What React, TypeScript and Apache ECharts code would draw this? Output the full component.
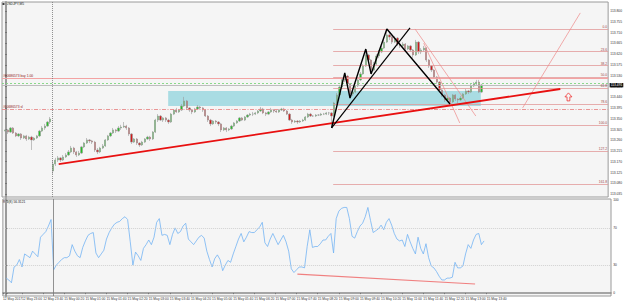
import React, { useEffect, useRef } from "react";
import * as echarts from "echarts";

// ---------- DATA ----------
// candles: [open, close, low, high], USDJPY M5, bar 18 = 15 May 00:00
const candles: number[][] = [
  [113.298, 113.303, 113.290, 113.311], [113.303, 113.294, 113.286, 113.307], [113.294, 113.311, 113.290, 113.315],
  [113.311, 113.290, 113.286, 113.315], [113.290, 113.278, 113.273, 113.294], [113.278, 113.286, 113.273, 113.290],
  [113.286, 113.269, 113.261, 113.290], [113.269, 113.278, 113.265, 113.282], [113.278, 113.265, 113.257, 113.282],
  [113.265, 113.273, 113.261, 113.278], [113.273, 113.261, 113.219, 113.278], [113.261, 113.269, 113.257, 113.273],
  [113.269, 113.278, 113.265, 113.282], [113.278, 113.298, 113.273, 113.303], [113.298, 113.311, 113.294, 113.319],
  [113.311, 113.319, 113.303, 113.328], [113.319, 113.336, 113.315, 113.340], [113.336, 113.349, 113.328, 113.357],
  [113.131, 113.160, 113.119, 113.177], [113.160, 113.177, 113.152, 113.186], [113.177, 113.186, 113.169, 113.194],
  [113.186, 113.177, 113.169, 113.190], [113.177, 113.190, 113.173, 113.198], [113.190, 113.198, 113.186, 113.206],
  [113.198, 113.211, 113.194, 113.219], [113.211, 113.227, 113.206, 113.236], [113.227, 113.211, 113.202, 113.232],
  [113.211, 113.198, 113.190, 113.215], [113.198, 113.206, 113.194, 113.215], [113.206, 113.232, 113.202, 113.236],
  [113.232, 113.248, 113.227, 113.252], [113.248, 113.261, 113.244, 113.269], [113.261, 113.257, 113.248, 113.265],
  [113.257, 113.252, 113.244, 113.261], [113.252, 113.219, 113.211, 113.257], [113.219, 113.211, 113.202, 113.227],
  [113.211, 113.227, 113.206, 113.232], [113.227, 113.236, 113.223, 113.244], [113.236, 113.261, 113.232, 113.265],
  [113.261, 113.278, 113.257, 113.282], [113.278, 113.290, 113.273, 113.294], [113.290, 113.303, 113.286, 113.311],
  [113.303, 113.298, 113.290, 113.307], [113.298, 113.311, 113.294, 113.319], [113.311, 113.315, 113.303, 113.324],
  [113.315, 113.319, 113.311, 113.336], [113.319, 113.311, 113.303, 113.324], [113.311, 113.286, 113.278, 113.315],
  [113.286, 113.252, 113.244, 113.290], [113.252, 113.265, 113.248, 113.269], [113.265, 113.248, 113.240, 113.269],
  [113.248, 113.240, 113.232, 113.252], [113.240, 113.252, 113.236, 113.257], [113.252, 113.265, 113.248, 113.269],
  [113.265, 113.273, 113.261, 113.278], [113.273, 113.265, 113.257, 113.278], [113.265, 113.294, 113.261, 113.298],
  [113.294, 113.344, 113.290, 113.349], [113.344, 113.361, 113.336, 113.369], [113.361, 113.344, 113.340, 113.365],
  [113.344, 113.353, 113.336, 113.357], [113.353, 113.344, 113.336, 113.357], [113.344, 113.336, 113.328, 113.349],
  [113.336, 113.369, 113.332, 113.374], [113.369, 113.386, 113.365, 113.390], [113.386, 113.378, 113.374, 113.395],
  [113.378, 113.386, 113.374, 113.390], [113.386, 113.403, 113.382, 113.411], [113.403, 113.424, 113.399, 113.441],
  [113.424, 113.395, 113.386, 113.428], [113.395, 113.386, 113.378, 113.399], [113.386, 113.378, 113.369, 113.390],
  [113.378, 113.390, 113.374, 113.395], [113.390, 113.399, 113.386, 113.407], [113.399, 113.395, 113.390, 113.403],
  [113.395, 113.386, 113.378, 113.399], [113.386, 113.361, 113.357, 113.390], [113.361, 113.344, 113.336, 113.365],
  [113.344, 113.328, 113.319, 113.349], [113.328, 113.340, 113.324, 113.344], [113.340, 113.336, 113.328, 113.344],
  [113.336, 113.328, 113.319, 113.340], [113.328, 113.303, 113.294, 113.332], [113.303, 113.311, 113.298, 113.315],
  [113.311, 113.303, 113.294, 113.315], [113.303, 113.307, 113.298, 113.311], [113.307, 113.319, 113.303, 113.324],
  [113.319, 113.332, 113.315, 113.336], [113.332, 113.340, 113.328, 113.344], [113.340, 113.353, 113.336, 113.357],
  [113.353, 113.344, 113.340, 113.357], [113.344, 113.357, 113.340, 113.361], [113.357, 113.365, 113.353, 113.369],
  [113.365, 113.369, 113.361, 113.374], [113.369, 113.369, 113.361, 113.378], [113.369, 113.374, 113.365, 113.378],
  [113.374, 113.382, 113.369, 113.386], [113.382, 113.390, 113.378, 113.399], [113.390, 113.374, 113.369, 113.395],
  [113.374, 113.369, 113.361, 113.378], [113.369, 113.378, 113.365, 113.382], [113.378, 113.386, 113.374, 113.395],
  [113.386, 113.382, 113.374, 113.390], [113.382, 113.378, 113.374, 113.386], [113.378, 113.386, 113.374, 113.390],
  [113.386, 113.390, 113.382, 113.395], [113.390, 113.382, 113.378, 113.395], [113.382, 113.369, 113.365, 113.386],
  [113.369, 113.344, 113.340, 113.374], [113.344, 113.336, 113.328, 113.349], [113.336, 113.340, 113.332, 113.344],
  [113.340, 113.336, 113.328, 113.344], [113.336, 113.340, 113.332, 113.344], [113.340, 113.344, 113.336, 113.349],
  [113.344, 113.357, 113.340, 113.361], [113.357, 113.369, 113.353, 113.374], [113.369, 113.361, 113.357, 113.374],
  [113.361, 113.361, 113.357, 113.365], [113.361, 113.365, 113.357, 113.369], [113.365, 113.365, 113.361, 113.369],
  [113.365, 113.369, 113.361, 113.374], [113.369, 113.369, 113.365, 113.374], [113.369, 113.374, 113.365, 113.378],
  [113.374, 113.374, 113.365, 113.378], [113.374, 113.361, 113.311, 113.378], [113.361, 113.415, 113.357, 113.420],
  [113.415, 113.449, 113.411, 113.457], [113.449, 113.482, 113.445, 113.491], [113.482, 113.512, 113.478, 113.520],
  [113.512, 113.528, 113.503, 113.541], [113.528, 113.495, 113.491, 113.533], [113.495, 113.453, 113.436, 113.499],
  [113.453, 113.461, 113.445, 113.470], [113.461, 113.487, 113.457, 113.491], [113.487, 113.512, 113.482, 113.516],
  [113.512, 113.537, 113.507, 113.545], [113.537, 113.570, 113.533, 113.578], [113.570, 113.616, 113.566, 113.641],
  [113.616, 113.595, 113.587, 113.620], [113.595, 113.553, 113.537, 113.599], [113.553, 113.578, 113.549, 113.587],
  [113.578, 113.612, 113.574, 113.620], [113.612, 113.629, 113.603, 113.637], [113.629, 113.645, 113.624, 113.654],
  [113.645, 113.670, 113.641, 113.679], [113.670, 113.700, 113.666, 113.725], [113.700, 113.691, 113.679, 113.712],
  [113.691, 113.670, 113.662, 113.695], [113.670, 113.687, 113.666, 113.695], [113.687, 113.662, 113.654, 113.691],
  [113.662, 113.654, 113.645, 113.670], [113.654, 113.662, 113.649, 113.670], [113.662, 113.641, 113.633, 113.666],
  [113.641, 113.654, 113.637, 113.658], [113.654, 113.637, 113.629, 113.658], [113.637, 113.616, 113.603, 113.641],
  [113.616, 113.670, 113.612, 113.679], [113.670, 113.629, 113.620, 113.674], [113.629, 113.637, 113.620, 113.645],
  [113.637, 113.645, 113.629, 113.654], [113.645, 113.595, 113.587, 113.649], [113.595, 113.570, 113.562, 113.599],
  [113.570, 113.553, 113.545, 113.574], [113.553, 113.524, 113.516, 113.557], [113.524, 113.503, 113.495, 113.528],
  [113.503, 113.470, 113.461, 113.507], [113.470, 113.449, 113.440, 113.474], [113.449, 113.428, 113.420, 113.453],
  [113.428, 113.436, 113.424, 113.445], [113.436, 113.420, 113.411, 113.440], [113.420, 113.449, 113.415, 113.453],
  [113.449, 113.432, 113.424, 113.453], [113.432, 113.428, 113.415, 113.436], [113.428, 113.436, 113.424, 113.445],
  [113.436, 113.453, 113.432, 113.457], [113.453, 113.466, 113.449, 113.474], [113.466, 113.461, 113.453, 113.470],
  [113.461, 113.487, 113.457, 113.495], [113.487, 113.495, 113.482, 113.503], [113.495, 113.503, 113.491, 113.512],
  [113.503, 113.461, 113.457, 113.512], [113.461, 113.491, 113.457, 113.495],
];

const rsiValues: number[] = [
  16, 14, 11, 28, 30, 36, 28, 42, 40, 38, 45, 42, 39, 60, 63, 66, 72, 79, 25, 30,
  33, 36, 38, 38, 40, 52, 45, 40, 38, 49, 56, 62, 64, 65, 43, 38, 42, 46, 58, 65,
  70, 74, 76, 77, 80, 82, 79, 55, 30, 44, 40, 35, 48, 52, 57, 52, 60, 76, 80, 62,
  63, 62, 52, 63, 70, 64, 66, 72, 75, 58, 55, 52, 56, 60, 62, 59, 45, 36, 28, 37,
  41, 36, 24, 30, 35, 33, 42, 50, 58, 64, 55, 60, 66, 65, 65, 68, 71, 76, 54, 50,
  58, 64, 58, 52, 57, 62, 55, 45, 26, 22, 25, 28, 28, 27, 50, 68, 49, 50, 50, 53,
  57, 57, 61, 64, 43, 80, 88, 91, 92, 92, 80, 61, 59, 66, 72, 75, 82, 92, 78, 65,
  67, 69, 73, 68, 76, 80, 73, 64, 58, 56, 57, 50, 63, 55, 48, 42, 60, 48, 42, 53,
  38, 29, 27, 23, 18, 14, 14, 16, 16, 17, 33, 27, 27, 29, 42, 52, 48, 57, 63, 64,
  52, 56,
];

const priceTickValues: number[] = [
  113.035, 113.080, 113.125, 113.170, 113.215, 113.260, 113.305, 113.350, 113.395,
  113.440, 113.485, 113.530, 113.575, 113.620, 113.665, 113.710, 113.755, 113.800,
];
const rsiTickValues: number[] = [0, 30, 70, 100];

const timeTickBars: number[] = [-1.2, 6, 14, 22, 30, 38, 46, 54, 62, 70, 78, 86, 94, 102, 110, 118, 126, 134, 142, 150, 158, 166, 174, 182];
const timeTickLabels: string[] = [
  "12 May 2017", "12 May 23:00", "12 May 23:40", "15 May 00:20", "15 May 01:00", "15 May 01:40",
  "15 May 02:20", "15 May 03:00", "15 May 03:40", "15 May 04:20", "15 May 05:00", "15 May 05:40",
  "15 May 06:20", "15 May 07:00", "15 May 07:40", "15 May 08:20", "15 May 09:00", "15 May 09:40",
  "15 May 10:20", "15 May 11:00", "15 May 11:40", "15 May 12:20", "15 May 13:00", "15 May 13:40",
];

// fibonacci retracement (anchored on bar 124 low / bar 145 high)
const fibHigh = 113.725;
const fibLow = 113.324;
const fibStartBar = 124.6;
const fibRatios: number[] = [0, 23.6, 38.2, 50.0, 61.8, 78.6, 100.0, 127.2, 161.8];

// trade levels
const buyPrice = 113.517;
const askPrice = 113.505;
const bidPrice = 113.491;
const slPrice = 113.390;
const orderLabel = "#60686573 buy 1.00";
const slLabel = "#60686573 sl";

// drawn objects, [bar, price]
const trendLine: number[][] = [[20.3, 113.160], [210.9, 113.474]];
const zigzag: number[][] = [[124, 113.311], [129, 113.541], [131, 113.436], [137, 113.641], [139, 113.537], [145, 113.725], [169, 113.411]];
const blackChannel: number[][] = [[124, 113.311], [153.8, 113.729]];
const pinkLineA: number[][] = [[155.7, 113.725], [178.8, 113.361]];
const pinkLineB: number[][] = [[159.0, 113.666], [172.7, 113.332]];
const pinkLineC: number[][] = [[196.6, 113.395], [218.5, 113.792]];
const demandZone = { fromBar: 61.9, toBar: 180.7, top: 113.466, bottom: 113.403 };
const arrowPoint: number[] = [214, 113.441];
const separatorBar = 18;
const rsiDivergence: number[][] = [[110.3, 20.4], [177.6, 9.7]];
const rsiLabel = "RSI(8) 56.3121";
const chartTitle = "USDJPY,M5";

// ---------- CHART ----------
const X_MIN = -1.25;
const X_MAX = 229.08;
const Y_MIN = 113.0225;
const Y_MAX = 113.8376;
const FONT = "Liberation Sans, DejaVu Sans, sans-serif";
const FS = 3.3;

export default function App() {
  const ref = useRef<HTMLDivElement>(null);
  useEffect(() => {
    if (!ref.current) return;
    const chart = echarts.init(ref.current, undefined, { renderer: "svg" });
    const candleData = candles.map((c, i) => [i, c[0], c[1], c[2], c[3]]);
    const rsiData = rsiValues.map((v, i) => [i, v]);
    const fibRange = fibHigh - fibLow;
    const fibLines = fibRatios.map((r) => {
      const p = fibHigh - (r / 100) * fibRange;
      return [
        { coord: [fibStartBar, p], label: { formatter: r.toFixed(1) } },
        { coord: [X_MAX, p] },
      ];
    });
    const timeFmt = (v: number) => {
      const k = timeTickBars.findIndex((t) => Math.abs(t - v) < 0.01);
      return k >= 0 ? timeTickLabels[k] : "";
    };
    const lineSeries = (data: number[][], color: string, width: number, z: number, type: any = "solid") => ({
      type: "line",
      xAxisIndex: 0,
      yAxisIndex: 0,
      data,
      showSymbol: false,
      symbol: "none",
      silent: true,
      z,
      lineStyle: { color, width, type },
    });

    const option: any = {
      animation: false,
      backgroundColor: "#ffffff",
      textStyle: { fontFamily: FONT },
      grid: [
        { left: 2, right: 14, top: 2, height: 195, show: true, backgroundColor: "#f5f5f5", borderColor: "#9a9a9a", borderWidth: 1 },
        { left: 2, right: 14, top: 199, height: 97, show: true, backgroundColor: "#f5f5f5", borderColor: "#9a9a9a", borderWidth: 1 },
      ],
      xAxis: [
        {
          type: "value", gridIndex: 0, min: X_MIN, max: X_MAX,
          axisLine: { show: false }, axisTick: { show: false }, axisLabel: { show: false }, splitLine: { show: false },
        },
        {
          type: "value", gridIndex: 1, min: X_MIN, max: X_MAX,
          axisLine: { show: true, lineStyle: { color: "#8a8a8a", width: 1.5 } },
          axisTick: { show: true, customValues: timeTickBars, length: 1.2, lineStyle: { color: "#555", width: 0.6 } },
          axisLabel: { show: true, customValues: timeTickBars, formatter: timeFmt, fontSize: FS, color: "#333", align: "left", margin: 1.2, fontFamily: FONT },
          splitLine: { show: false },
        },
      ],
      yAxis: [
        {
          type: "value", gridIndex: 0, position: "right", min: Y_MIN, max: Y_MAX, scale: true,
          axisLine: { show: true, lineStyle: { color: "#9a9a9a", width: 2 } },
          axisTick: { show: true, customValues: priceTickValues, length: 1.5, lineStyle: { color: "#444", width: 0.6 } },
          axisLabel: { show: true, customValues: priceTickValues, formatter: (v: number) => v.toFixed(3), fontSize: FS, color: "#333", margin: 2.2, fontFamily: FONT },
          splitLine: { show: false },
        },
        {
          type: "value", gridIndex: 1, position: "right", min: -3.23, max: 101.08,
          axisLine: { show: true, lineStyle: { color: "#9a9a9a", width: 2 } },
          axisTick: { show: true, customValues: rsiTickValues, length: 1.5, lineStyle: { color: "#444", width: 0.6 } },
          axisLabel: { show: true, customValues: rsiTickValues, formatter: (v: number) => String(v), fontSize: FS, color: "#333", margin: 2.2, fontFamily: FONT },
          splitLine: { show: false },
        },
      ],
      series: [
        // demand zone
        {
          type: "line", xAxisIndex: 0, yAxisIndex: 0, data: [], z: 1, silent: true,
          markArea: {
            silent: true,
            itemStyle: { color: "#a9dce3", opacity: 1 },
            data: [[{ coord: [demandZone.fromBar, demandZone.top] }, { coord: [demandZone.toBar, demandZone.bottom] }]],
          },
        },
        // fibo + trade levels + separator
        {
          type: "line", xAxisIndex: 0, yAxisIndex: 0, data: [], z: 2, silent: true,
          markLine: {
            silent: true, symbol: ["none", "none"], animation: false,
            lineStyle: { color: "#e29a9a", width: 0.8, type: "solid" },
            label: { show: true, position: "insideEndTop", fontSize: FS, color: "#a04848", distance: [1, 0.5], fontFamily: FONT },
            data: [
              ...fibLines,
              {
                yAxis: buyPrice, lineStyle: { color: "#f3a3a3", width: 1, type: "solid" },
                label: { position: "insideStartTop", formatter: orderLabel, color: "#8a2020", distance: [1, 0.3] },
              },
              {
                yAxis: buyPrice, lineStyle: { width: 0, opacity: 0 },
                label: { position: "end", formatter: buyPrice.toFixed(3), color: "#ffffff", backgroundColor: "#e01010", padding: [0.8, 1, 0.5, 1], distance: 1.5 },
              },
              {
                yAxis: askPrice, lineStyle: { color: "#7fd67f", width: 0.9, type: [2, 2] },
                label: { show: false },
              },
              {
                yAxis: bidPrice, lineStyle: { color: "#b8b8b8", width: 0.9, type: "solid" },
                label: { position: "end", formatter: bidPrice.toFixed(3), color: "#ffffff", backgroundColor: "#111111", padding: [0.8, 1, 0.5, 1], distance: 1.5 },
              },
              {
                yAxis: slPrice, lineStyle: { color: "#e88a8a", width: 0.9, type: [4, 1.5, 1, 1.5] },
                label: { position: "insideStartTop", formatter: slLabel, color: "#8a2020", distance: [1, 0.3] },
              },
              {
                xAxis: separatorBar, lineStyle: { color: "#777777", width: 0.8, type: [1, 1] },
                label: { show: false },
              },
            ],
          },
        },
        {
          type: "candlestick", xAxisIndex: 0, yAxisIndex: 0, z: 4, silent: true,
          data: candleData, encode: { x: 0, y: [1, 2, 3, 4] },
          barWidth: 1.8,
          itemStyle: { color: "#22c022", color0: "#d01818", borderColor: "#9a9a9a", borderColor0: "#9a9a9a", borderWidth: 0.6 },
        },
        lineSeries(pinkLineA, "#ee8888", 0.7, 5),
        lineSeries(pinkLineB, "#ee8888", 0.7, 5),
        lineSeries(pinkLineC, "#ee8888", 0.7, 5),
        lineSeries(trendLine, "#e81010", 1.8, 6),
        lineSeries(zigzag, "#000000", 1.4, 7),
        lineSeries(blackChannel, "#000000", 1.2, 7),
        {
          type: "scatter", xAxisIndex: 0, yAxisIndex: 0, z: 8, silent: true,
          data: [arrowPoint],
          symbol: "path://M5,0 L10,5 L7,5 L7,10 L3,10 L3,5 L0,5 Z",
          symbolSize: [7, 8],
          itemStyle: { color: "rgba(255,255,255,0)", borderColor: "#ee2222", borderWidth: 0.9 },
        },
        // RSI
        {
          type: "line", xAxisIndex: 1, yAxisIndex: 1, data: [], z: 2, silent: true,
          markLine: {
            silent: true, symbol: ["none", "none"],
            label: { show: false },
            data: [
              { yAxis: 70, lineStyle: { color: "#c8c8c8", width: 0.8, type: [1, 1] } },
              { yAxis: 30, lineStyle: { color: "#c8c8c8", width: 0.8, type: [1, 1] } },
              { xAxis: separatorBar, lineStyle: { color: "#777777", width: 0.8, type: "solid" } },
            ],
          },
        },
        {
          type: "line", xAxisIndex: 1, yAxisIndex: 1, data: rsiDivergence, z: 3, silent: true,
          showSymbol: false, symbol: "none", lineStyle: { color: "#f08080", width: 1.2 },
        },
        {
          type: "line", xAxisIndex: 1, yAxisIndex: 1, data: rsiData, z: 4, silent: true,
          showSymbol: false, symbol: "none", lineStyle: { color: "#74b4f4", width: 0.8 },
        },
      ],
      graphic: [
        { type: "rect", left: 2.5, top: 3.2, shape: { width: 2, height: 1.6 }, style: { fill: "#111" }, silent: true },
        { type: "text", left: 6, top: 2.3, style: { text: chartTitle, fontSize: FS, fill: "#222", fontFamily: FONT }, silent: true },
        { type: "text", left: 3, top: 200.5, style: { text: rsiLabel, fontSize: FS, fill: "#222", fontFamily: FONT }, silent: true },
      ],
    };
    chart.setOption(option);
    return () => chart.dispose();
  }, []);
  return (
    <div
      ref={ref}
      style={{ position: "fixed", left: 0, top: 0, width: 625, height: 303, background: "#fff" }}
    />
  );
}
